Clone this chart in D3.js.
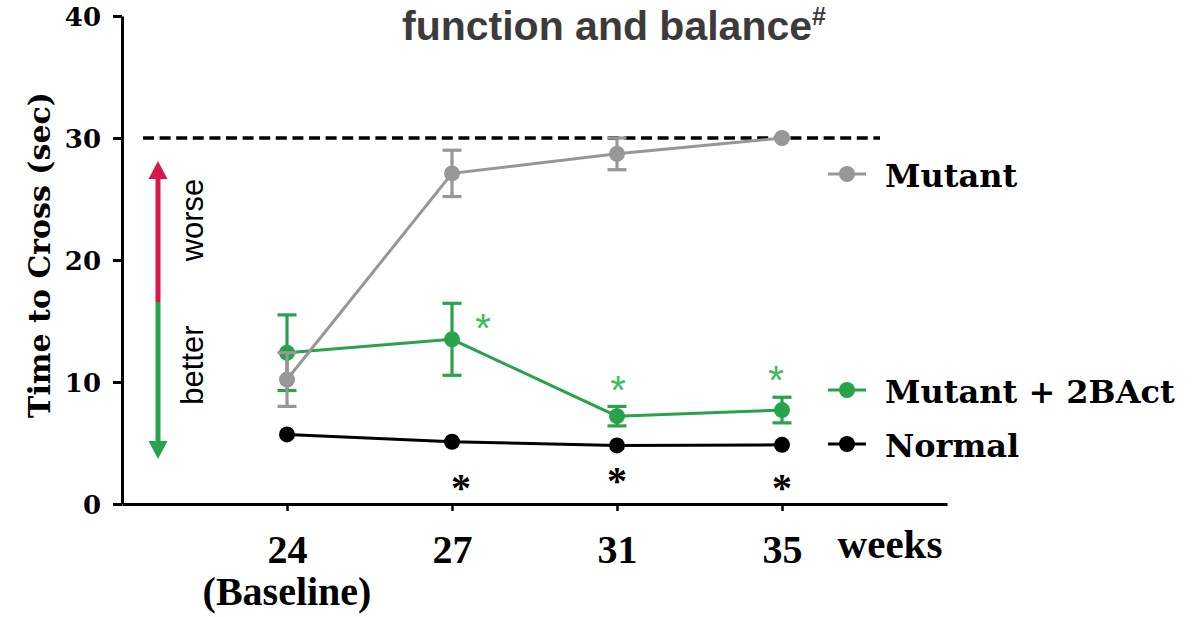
<!DOCTYPE html>
<html><head><meta charset="utf-8">
<script src="https://cdn.jsdelivr.net/npm/d3@7"></script>
<style>
html,body{margin:0;padding:0;background:#fff;}
svg{display:block;}
</style></head>
<body>
<svg id="chart" width="1198" height="617"></svg>
<script>
const categories = ["24", "27", "31", "35"];
const mutant = [10.2, 27.1, 28.7, 30.0];
const mutantErr = [2.2, 1.9, 1.3, 0];
const treated = [12.4, 13.5, 7.2, 7.7];
const treatedErr = [3.1, 2.95, 0.8, 1.05];
const normal = [5.7, 5.1, 4.8, 4.85];
const yTicks = [0, 10, 20, 30, 40];
const ceilingValue = 30;
// significance marks: value-space height of each asterisk (null = none)
const treatedStarAt = [null, 15.1, 10.0, 10.8];
const normalStarAt = [null, 2.0, 2.55, 2.0];
const seriesNames = ["Mutant", "Mutant + 2BAct", "Normal"];

const C_GRAY = "#979797", C_GREEN = "#27a34b", C_STAR_GREEN = "#3dbb5c", C_RED = "#d8184a";
const serif = "'Liberation Serif', 'DejaVu Serif', serif";
const dserif = "'DejaVu Serif', serif";
const sans = "'Liberation Sans', Arial, sans-serif";

const svg = d3.select("#chart");
const x = d3.scalePoint().domain(categories).range([122, 947]).padding(1);
const y = d3.scaleLinear().domain([0, 40]).range([504, 16]);

// Title (partially visible)
const title = svg.append("text").attr("x", 614).attr("y", 40).attr("text-anchor", "middle")
  .attr("font-family", sans).attr("font-weight", "bold").attr("font-size", 41).attr("fill", "#3d3a3b");
title.append("tspan").text("function and balance");
title.append("tspan").attr("dy", -15).attr("font-size", 25).text("#");

// Y axis
const yAxis = svg.append("g").attr("transform", "translate(122,0)")
  .call(d3.axisLeft(y).tickValues(yTicks).tickSize(9).tickSizeOuter(0).tickPadding(12));
yAxis.select(".domain").attr("stroke", "#000").attr("stroke-width", 3);
yAxis.selectAll(".tick line").attr("stroke", "#000").attr("stroke-width", 3);
yAxis.selectAll(".tick text").attr("font-family", dserif).attr("font-weight", "bold")
  .attr("font-size", 26).attr("fill", "#000").attr("dy", "0.38em");

// X axis
const xAxis = svg.append("g").attr("transform", "translate(0,504)")
  .call(d3.axisBottom(x).tickSize(7).tickSizeOuter(0).tickPadding(24));
xAxis.select(".domain").attr("stroke", "#000").attr("stroke-width", 3);
xAxis.selectAll(".tick line").attr("stroke", "#000").attr("stroke-width", 2.5);
xAxis.selectAll(".tick text").attr("font-family", serif).attr("font-weight", "bold")
  .attr("font-size", 40).attr("fill", "#000").attr("dy", "0.71em");

svg.append("text").attr("x", x("24")).attr("y", 605).attr("text-anchor", "middle")
  .attr("font-family", serif).attr("font-weight", "bold").attr("font-size", 40).text("(Baseline)");
svg.append("text").attr("x", 890).attr("y", 558).attr("text-anchor", "middle")
  .attr("font-family", serif).attr("font-weight", "bold").attr("font-size", 41).text("weeks");

// Y axis title
svg.append("text").attr("transform", "translate(50,255) rotate(-90)").attr("text-anchor", "middle")
  .attr("font-family", dserif).attr("font-weight", "bold").attr("font-size", 30)
  .text("Time to Cross (sec)");

// Ceiling dashed line
svg.append("line").attr("x1", 143).attr("x2", 880).attr("y1", y(ceilingValue)).attr("y2", y(ceilingValue))
  .attr("stroke", "#000").attr("stroke-width", 3.4).attr("stroke-dasharray", "11,5.6");

// Worse/better arrow
const ax = 158, yTop = 161, yMid = 302, yBot = 459;
svg.append("line").attr("x1", ax).attr("x2", ax).attr("y1", yTop + 14).attr("y2", yMid)
  .attr("stroke", C_RED).attr("stroke-width", 5);
svg.append("path").attr("d", `M${ax},${yTop} L${ax - 9.5},${yTop + 18} L${ax + 9.5},${yTop + 18} Z`).attr("fill", C_RED);
svg.append("line").attr("x1", ax).attr("x2", ax).attr("y1", yMid).attr("y2", yBot - 14)
  .attr("stroke", C_GREEN).attr("stroke-width", 5);
svg.append("path").attr("d", `M${ax},${yBot} L${ax - 9.5},${yBot - 18} L${ax + 9.5},${yBot - 18} Z`).attr("fill", C_GREEN);
svg.append("text").attr("transform", "translate(203,220) rotate(-90)").attr("text-anchor", "middle")
  .attr("font-family", sans).attr("font-size", 31).text("worse");
svg.append("text").attr("transform", "translate(203,365) rotate(-90)").attr("text-anchor", "middle")
  .attr("font-family", sans).attr("font-size", 31).text("better");

// Series
function drawSeries(vals, errs, color) {
  const g = svg.append("g");
  const line = d3.line().x((d, i) => x(categories[i])).y(d => y(d));
  g.append("path").attr("d", line(vals)).attr("fill", "none").attr("stroke", color).attr("stroke-width", 3);
  if (errs) {
    vals.forEach((v, i) => {
      if (!errs[i]) return;
      const cx = x(categories[i]);
      g.append("line").attr("x1", cx).attr("x2", cx).attr("y1", y(v - errs[i])).attr("y2", y(v + errs[i]))
        .attr("stroke", color).attr("stroke-width", 3.2);
      [v - errs[i], v + errs[i]].forEach(e => {
        g.append("line").attr("x1", cx - 9.5).attr("x2", cx + 9.5).attr("y1", y(e)).attr("y2", y(e))
          .attr("stroke", color).attr("stroke-width", 3.2);
      });
    });
  }
  g.selectAll("circle").data(vals).enter().append("circle")
    .attr("cx", (d, i) => x(categories[i])).attr("cy", d => y(d)).attr("r", 8).attr("fill", color);
}
drawSeries(normal, null, "#000");
drawSeries(treated, treatedErr, C_GREEN);
drawSeries(mutant, mutantErr, C_GRAY);

// Significance asterisks, centred on their target
function star(cx, cy, color, family, weight, size) {
  const t = svg.append("text").attr("x", cx).attr("y", cy).attr("text-anchor", "middle")
    .attr("font-family", family).attr("font-weight", weight).attr("font-size", size).attr("fill", color).text("*");
  const b = t.node().getBBox();
  const glyphCentre = b.y + b.height * 0.32; // asterisk sits in upper part of em box
  t.attr("y", cy + (cy - glyphCentre));
}
const treatedStarDx = [0, 31, 1, -6];
treatedStarAt.forEach((v, i) => {
  if (v == null) return;
  star(x(categories[i]) + treatedStarDx[i], y(v), C_STAR_GREEN, sans, "normal", 40);
});
const normalStarDx = [0, 9, 0, 0];
normalStarAt.forEach((v, i) => {
  if (v == null) return;
  star(x(categories[i]) + normalStarDx[i], y(v), "#000", serif, "bold", 40);
});

// Legend
const legendY = [174, 390, 444];
const legendColors = [C_GRAY, C_GREEN, "#000"];
seriesNames.forEach((name, i) => {
  const g = svg.append("g").attr("transform", `translate(828,${legendY[i]})`);
  g.append("line").attr("x1", 0).attr("x2", 38).attr("stroke", legendColors[i]).attr("stroke-width", 3);
  g.append("circle").attr("cx", 19).attr("r", 8).attr("fill", legendColors[i]);
  g.append("text").attr("x", 57).attr("y", 13).attr("font-family", dserif)
    .attr("font-weight", "bold").attr("font-size", 32).text(name);
});
</script>
</body></html>
